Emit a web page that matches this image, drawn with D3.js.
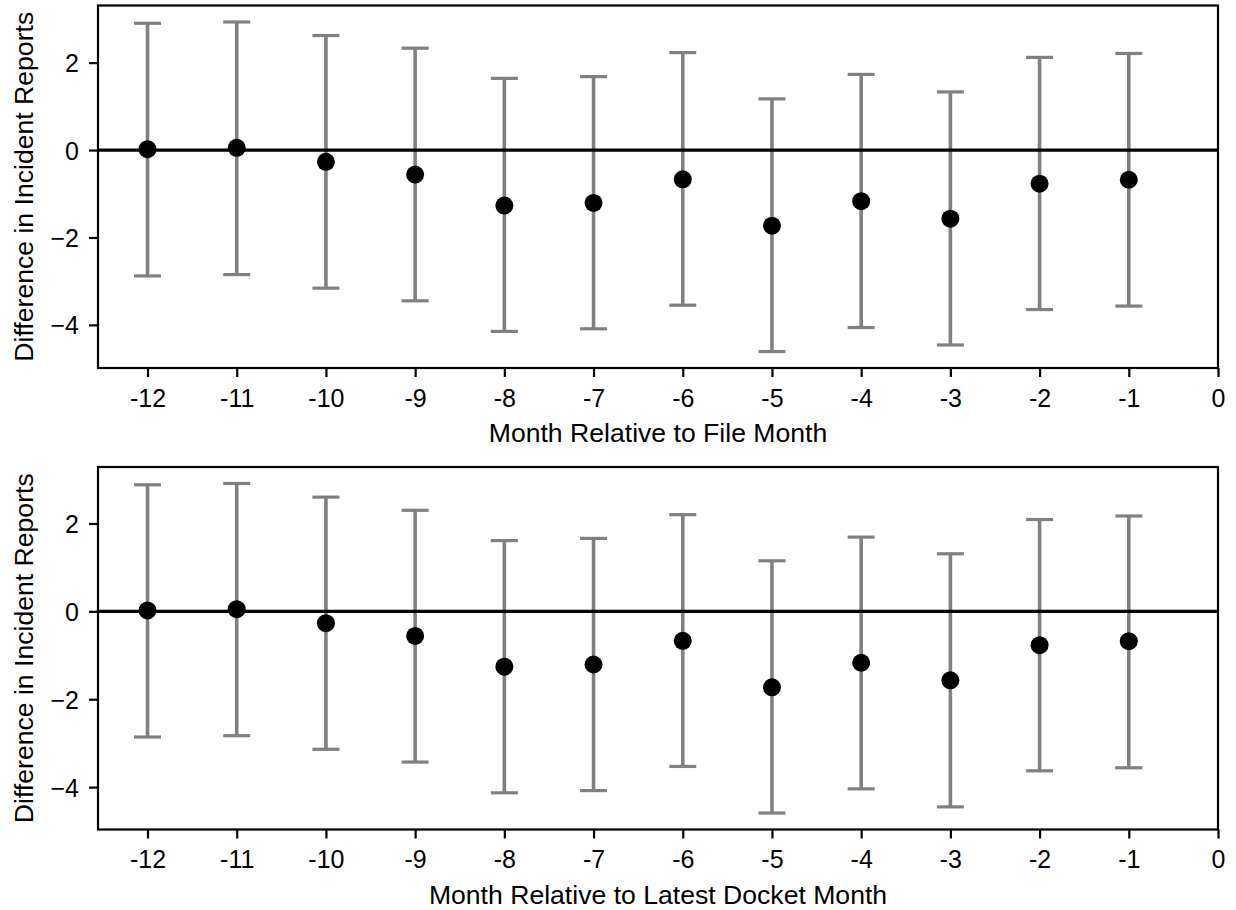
<!DOCTYPE html>
<html>
<head>
<meta charset="utf-8">
<script src="https://cdn.jsdelivr.net/npm/d3@7"></script>
<style>
  html, body { margin: 0; padding: 0; background: #fff; }
  svg { display: block; }
  text { font-family: "Liberation Sans", Arial, Helvetica, sans-serif; fill: #000; }
</style>
</head>
<body>
<svg id="chart" width="1236" height="910"></svg>
<script>
// Event-study estimates: months before the reference month
const months = [-12, -11, -10, -9, -8, -7, -6, -5, -4, -3, -2, -1];

// Panel A: relative to file month
const fileEst   = [0.02, 0.05, -0.27, -0.56, -1.27, -1.21, -0.67, -1.73, -1.17, -1.57, -0.77, -0.68];
const fileUpper = [2.90, 2.93, 2.62, 2.33, 1.64, 1.68, 2.23, 1.17, 1.73, 1.33, 2.12, 2.21];
const fileLower = [-2.88, -2.85, -3.16, -3.45, -4.15, -4.09, -3.55, -4.61, -4.06, -4.46, -3.65, -3.57];

// Panel B: relative to latest docket month
const docketEst   = [0.02, 0.05, -0.27, -0.56, -1.26, -1.21, -0.67, -1.73, -1.17, -1.57, -0.77, -0.68];
const docketUpper = [2.88, 2.91, 2.60, 2.30, 1.61, 1.66, 2.20, 1.15, 1.69, 1.31, 2.09, 2.17];
const docketLower = [-2.86, -2.83, -3.14, -3.43, -4.13, -4.08, -3.53, -4.59, -4.04, -4.45, -3.63, -3.56];

const xTickValues = [-12, -11, -10, -9, -8, -7, -6, -5, -4, -3, -2, -1, 0];
const xTickLabels = ["-12", "-11", "-10", "-9", "-8", "-7", "-6", "-5", "-4", "-3", "-2", "-1", "0"];
const yTickValues = [-4, -2, 0, 2];

const yTitle = "Difference in Incident Reports";
const panels = [
  { est: fileEst, upper: fileUpper, lower: fileLower, title: "Month Relative to File Month", top: 5.5 },
  { est: docketEst, upper: docketUpper, lower: docketLower, title: "Month Relative to Latest Docket Month", top: 467 }
];

const svg = d3.select("#chart");
const left = 98, right = 1218, plotH = 362.5;
const tickFont = 25, titleFont = 26.6;

panels.forEach(p => {
  const top = p.top, bottom = top + plotH;
  const lo = d3.min(p.lower), hi = d3.max(p.upper);
  const pad = (hi - lo) * 0.05;

  const x = d3.scaleLinear().domain([-12.555, 0]).range([left, right]);
  const y = d3.scaleLinear().domain([lo - pad, hi + pad]).range([bottom, top]);

  const g = svg.append("g");
  const rows = months.map((m, i) => ({ m, v: p.est[i], u: p.upper[i], l: p.lower[i] }));

  // error bars
  const eb = g.append("g").attr("stroke", "#808080").attr("fill", "none");
  eb.selectAll("line.bar").data(rows).join("line").attr("class", "bar")
    .attr("x1", d => x(d.m)).attr("x2", d => x(d.m))
    .attr("y1", d => y(d.u)).attr("y2", d => y(d.l))
    .attr("stroke-width", 3.6);
  eb.selectAll("line.capU").data(rows).join("line").attr("class", "capU")
    .attr("x1", d => x(d.m) - 13.5).attr("x2", d => x(d.m) + 13.5)
    .attr("y1", d => y(d.u)).attr("y2", d => y(d.u))
    .attr("stroke-width", 3.2);
  eb.selectAll("line.capL").data(rows).join("line").attr("class", "capL")
    .attr("x1", d => x(d.m) - 13.5).attr("x2", d => x(d.m) + 13.5)
    .attr("y1", d => y(d.l)).attr("y2", d => y(d.l))
    .attr("stroke-width", 3.2);

  // zero reference line
  g.append("line")
    .attr("x1", left).attr("x2", right)
    .attr("y1", y(0)).attr("y2", y(0))
    .attr("stroke", "#000").attr("stroke-width", 3.2);

  // point estimates
  g.selectAll("circle").data(rows).join("circle")
    .attr("cx", d => x(d.m)).attr("cy", d => y(d.v)).attr("r", 9)
    .attr("fill", "#000");

  // frame
  g.append("rect")
    .attr("x", left).attr("y", top).attr("width", right - left).attr("height", plotH)
    .attr("fill", "none").attr("stroke", "#000").attr("stroke-width", 2.2);

  // x axis
  const xAxis = g.append("g").attr("transform", `translate(0,${bottom})`)
    .call(d3.axisBottom(x).tickValues(xTickValues)
      .tickFormat((d, i) => xTickLabels[i]).tickSize(9));
  xAxis.select(".domain").remove();
  xAxis.selectAll(".tick line").attr("stroke", "#000").attr("stroke-width", 2.2);
  xAxis.selectAll(".tick text")
    .attr("y", 38.5).attr("dy", null)
    .style("font-size", tickFont + "px").style("font-family", null);

  // y axis
  const yAxis = g.append("g").attr("transform", `translate(${left},0)`)
    .call(d3.axisLeft(y).tickValues(yTickValues).tickFormat(d3.format("d")).tickSize(9));
  yAxis.select(".domain").remove();
  yAxis.selectAll(".tick line").attr("stroke", "#000").attr("stroke-width", 2.2);
  yAxis.selectAll(".tick text")
    .attr("x", -19).attr("dy", "0.36em")
    .style("font-size", tickFont + "px").style("font-family", null);

  // titles
  g.append("text")
    .attr("x", (left + right) / 2).attr("y", bottom + 74)
    .attr("text-anchor", "middle")
    .style("font-size", titleFont + "px")
    .text(p.title);
  g.append("text")
    .attr("transform", `translate(33,${(top + bottom) / 2}) rotate(-90)`)
    .attr("text-anchor", "middle")
    .style("font-size", titleFont + "px")
    .text(yTitle);
});
</script>
</body>
</html>
